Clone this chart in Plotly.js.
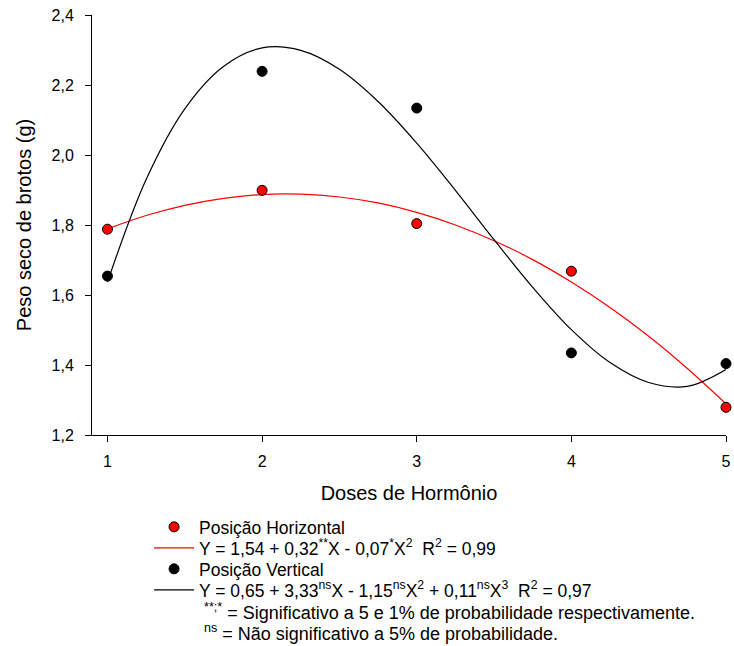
<!DOCTYPE html>
<html>
<head>
<meta charset="utf-8">
<script src="https://cdn.plot.ly/plotly-3.0.1.min.js"></script>
<style>html,body{margin:0;padding:0;background:#fff;}#chart{width:734px;height:646px;}</style>
</head>
<body>
<div id="chart"></div>
<script>
// Observed means
const doses = [1, 2, 3, 4, 5];
const horizontal = [1.788, 1.899, 1.804, 1.668, 1.279];
const vertical = [1.654, 2.239, 2.134, 1.4345, 1.404];

// Fitted curves
const curveX = [1, 1.25, 1.5, 1.75, 2, 2.25, 2.5, 2.75, 3, 3.25, 3.5, 3.75, 4, 4.25, 4.5, 4.75, 5];
const curveHorizontal = [1.789, 1.827, 1.856, 1.876, 1.887, 1.888, 1.880, 1.863, 1.836, 1.800, 1.755, 1.701, 1.637, 1.564, 1.482, 1.390, 1.289];
const curveVertical = [1.637, 1.930, 2.132, 2.253, 2.306, 2.299, 2.245, 2.153, 2.034, 1.899, 1.758, 1.622, 1.501, 1.407, 1.350, 1.339, 1.387];

// Labels
const nameH = 'Posição Horizontal';
const nameV = 'Posição Vertical';
const eqH = 'Y = 1,54 + 0,32<sup>**</sup>X - 0,07<sup>*</sup>X<sup>2</sup>  R<sup>2</sup> = 0,99';
const eqV = 'Y = 0,65 + 3,33<sup>ns</sup>X - 1,15<sup>ns</sup>X<sup>2</sup> + 0,11<sup>ns</sup>X<sup>3</sup>  R<sup>2</sup> = 0,97';
const note1 = '<sup>**;*</sup> = Significativo a 5 e 1% de probabilidade respectivamente.';
const note2 = '<sup>ns</sup> = Não significativo a 5% de probabilidade.';
const xTitle = 'Doses de Hormônio';
const yTitle = 'Peso seco de brotos (g)';

const FONT = 'Liberation Sans, Arial, sans-serif';

const traces = [
  {x: curveX, y: curveHorizontal, type: 'scatter', mode: 'lines', name: eqH, legend: 'legend2',
   line: {color: '#ff0000', width: 1.2, shape: 'spline'}, cliponaxis: false},
  {x: curveX, y: curveVertical, type: 'scatter', mode: 'lines', name: eqV, legend: 'legend4',
   line: {color: '#000000', width: 1.2, shape: 'spline'}, cliponaxis: false},
  {x: doses, y: horizontal, type: 'scatter', mode: 'markers', name: nameH, legend: 'legend',
   marker: {color: '#ff0000', size: 10, line: {color: '#000000', width: 1}}, cliponaxis: false},
  {x: doses, y: vertical, type: 'scatter', mode: 'markers', name: nameV, legend: 'legend3',
   marker: {color: '#000000', size: 10, line: {color: '#000000', width: 1}}, cliponaxis: false}
];

function leg(yc) {
  return {x: 0.09, xanchor: 'left', y: yc, yanchor: 'middle', bgcolor: 'rgba(0,0,0,0)',
          font: {family: FONT, size: 17.5, color: '#000'}, itemwidth: 40, borderwidth: 0};
}

const layout = {
  width: 734, height: 646,
  margin: {l: 92, r: 8, t: 15, b: 211},
  paper_bgcolor: '#ffffff', plot_bgcolor: '#ffffff',
  separators: ',.',
  font: {family: FONT, color: '#000000', size: 16},
  showlegend: true,
  legend: leg(-0.219),
  legend2: leg(-0.269),
  legend3: leg(-0.319),
  legend4: leg(-0.369),
  xaxis: {range: [0.9, 5.0], tickvals: doses, ticktext: ['1','2','3','4','5'],
          showline: true, linecolor: '#000', linewidth: 1, mirror: false,
          ticks: 'outside', ticklen: 6, tickcolor: '#000', tickwidth: 1,
          showgrid: false, zeroline: false, ticklabelstandoff: 6,
          tickfont: {family: FONT, size: 16, color: '#000'},
          title: {text: xTitle, font: {family: FONT, size: 20, color: '#000'}, standoff: 16}},
  yaxis: {range: [1.2, 2.4], dtick: 0.2, tick0: 1.2, tickformat: '.1f',
          showline: true, linecolor: '#000', linewidth: 1, mirror: false,
          ticks: 'outside', ticklen: 6, tickcolor: '#000', tickwidth: 1,
          showgrid: false, zeroline: false, ticklabelstandoff: 8,
          tickfont: {family: FONT, size: 16, color: '#000'},
          title: {text: yTitle, font: {family: FONT, size: 20, color: '#000'}, standoff: 14}},
  annotations: [
    {xref: 'paper', yref: 'paper', x: 0.1735, y: -0.4214, xanchor: 'left', yanchor: 'middle',
     text: note1, showarrow: false, font: {family: FONT, size: 18, color: '#000'}},
    {xref: 'paper', yref: 'paper', x: 0.1735, y: -0.4714, xanchor: 'left', yanchor: 'middle',
     text: note2, showarrow: false, font: {family: FONT, size: 18, color: '#000'}}
  ]
};

Plotly.newPlot('chart', traces, layout, {displayModeBar: false, staticPlot: true});
</script>
</body>
</html>
